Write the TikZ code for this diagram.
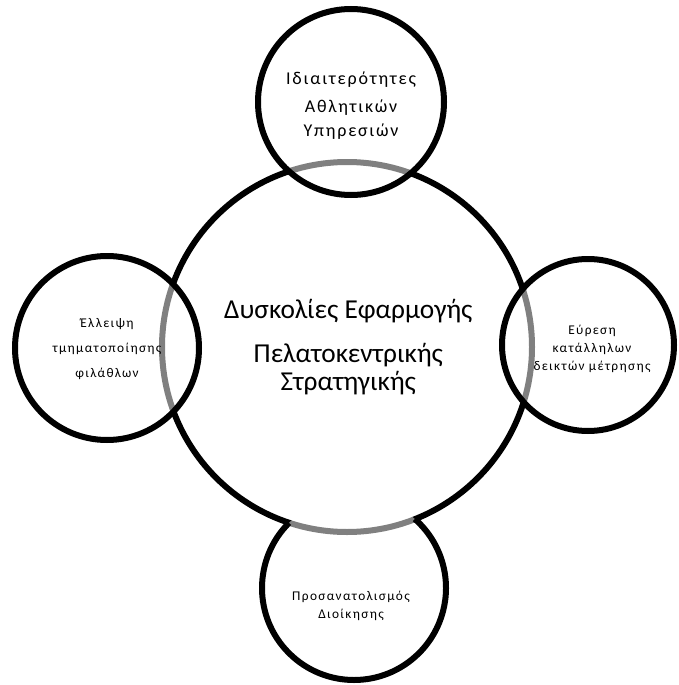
\documentclass[tikz,border=0pt]{standalone}
\usepackage{fontspec}
\setmainfont{Carlito}
\newfontfamily\araio[LetterSpace=10]{Carlito}

\begin{document}
\begin{tikzpicture}[x=0.75pt,y=0.75pt,
    kyklos/.style={circle,draw=black,line width=4.5pt,inner sep=0pt},
    mikros/.style={kyklos,fill=white,fill opacity=0.5,draw opacity=1,text opacity=1},
    keimeno/.style={align=center,font=\araio\fontsize{10}{13.5}\selectfont}]

    \useasboundingbox (0,0) rectangle (678,-685);

    % Κεντρικός κύκλος
    \node[kyklos,fill=white,minimum size=277.5pt] (kentro) at (347,-347) {};
    \node[align=center,font=\fontsize{20.5}{20.5}\selectfont] (kentro-t) at ([xshift=1pt]kentro.center)
        {Δυσκολίες Εφαρμογής\\[12.5pt]Πελατοκεντρικής\\Στρατηγικής};

    % Μικροί κύκλοι
    \node[mikros,minimum size=139.5pt] (pano) at (351,-102) {};
    \node[mikros,minimum size=138pt] (aristera) at (107,-348) {};
    \node[mikros,minimum size=129pt] (dexia) at (588,-345) {};
    \node[mikros,draw=none,minimum size=138pt] (kato) at (354,-588) {};
    \draw[line width=4.5pt] ([shift={(135:69pt)}]kato.center) arc[start angle=135,end angle=408.6,radius=69pt];

    % Κείμενα
    \node[keimeno,font=\araio\fontsize{13.5}{18}\selectfont] (pano-t) at ([yshift=-3pt]pano.center)
        {Ιδιαιτερότητες\\[3pt]Αθλητικών\\Υπηρεσιών};
    \node[keimeno,font=\araio\fontsize{10}{18.75}\selectfont] (aristera-t) at ([yshift=-1pt]aristera.center)
        {Έλλειψη\\τμηματοποίησης\\φιλάθλων};
    \node[keimeno] (dexia-t) at ([shift={(3pt,-2.6pt)}]dexia.center)
        {Εύρεση\\κατάλληλων\\δεικτών μέτρησης};
    \node[keimeno] (kato-t) at ([shift={(-2.25pt,-13.5pt)}]kato.center)
        {Προσανατολισμός\\Διοίκησης};

\end{tikzpicture}
\end{document}
